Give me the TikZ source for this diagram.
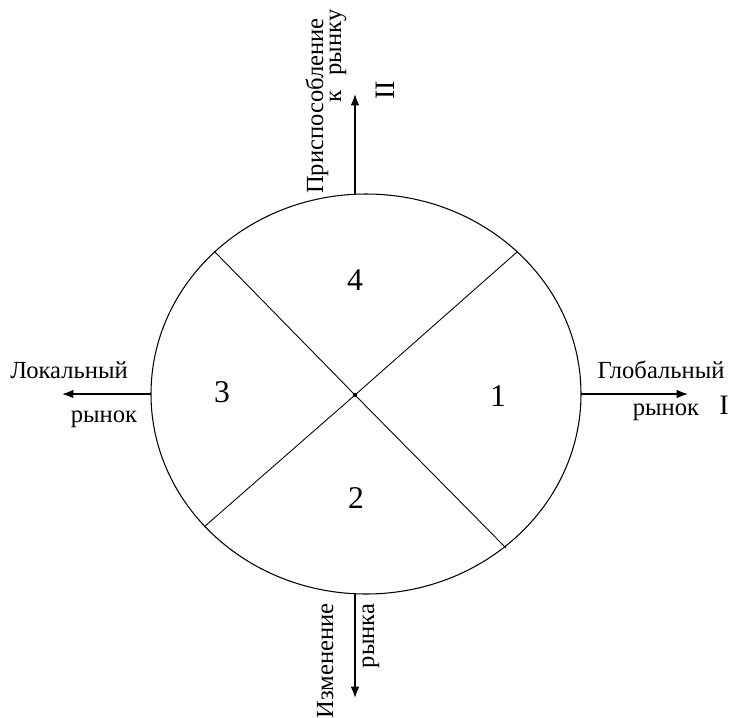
\documentclass[tikz,border=0pt]{standalone}
\usepackage{fontspec}
\setmainfont{Liberation Serif}
\usetikzlibrary{arrows.meta}
\tikzset{
  axis/.style={-{Latex[length=6.5pt,width=5pt]}, line width=0.9pt},
  cut/.style={line width=0.5pt},
  lbl/.style={font=\fontsize{14}{16}\selectfont, inner sep=0pt},
  num/.style={font=\fontsize{18}{21}\selectfont, inner sep=0pt},
  rom/.style={font=\fontsize{16}{19}\selectfont, inner sep=0pt},
}

\begin{document}
\begin{tikzpicture}[x=0.02cm,y=-0.02cm]
  \useasboundingbox (0,0) rectangle (730,717);
  % oval
  \draw[line width=0.6pt] (366,394) ellipse (215 and 200);
  % centre and the ends of the two cuts
  \coordinate (o) at (355,395);
  \coordinate (ul) at (214,251);
  \coordinate (ur) at (517,252);
  \coordinate (ll) at (204,527);
  \coordinate (lr) at (506,548);
  \draw[cut] (ul) -- (o) -- (lr);
  \draw[cut] (ur) -- (o) -- (ll);
  \fill (o) circle (2.2);
  % axes
  \coordinate (east) at (581,394);
  \coordinate (eastTip) at (688,394);
  \coordinate (west) at (151,394);
  \coordinate (westTip) at (62,394);
  \coordinate (north) at (355,194);
  \coordinate (northTip) at (355,94);
  \coordinate (south) at (355,594);
  \coordinate (southTip) at (355,698);
  \draw[axis] (east) -- (eastTip);
  \draw[axis] (west) -- (westTip);
  \draw[axis] (north) -- (northTip);
  \draw[axis] (south) -- (southTip);
  % sectors
  \node[num] (s1) at (498,396) {1};
  \node[num] (s2) at (356,498) {2};
  \node[num] (s3) at (222,392) {3};
  \node[num] (s4) at (355,280) {4};
  % labels
  \node[lbl, anchor=base] (glob) at (661,378) {Глобальный};
  \node[lbl, anchor=base] (globM) at (666,415) {рынок};
  \node[rom, anchor=base] (one) at (724,414) {I};
  \node[lbl, anchor=base] (loc) at (69,378) {Локальный};
  \node[lbl, anchor=base] (locM) at (104,422) {рынок};
  \node[lbl, anchor=base, rotate=90] (adapt) at (323,106) {Приспособление};
  \node[lbl, anchor=base, rotate=90] (adaptM) at (341,56) {к\hspace{0.6em}рынку};
  \node[rom, rotate=90] (two) at (385,90) {II};
  \node[lbl, anchor=base, rotate=90] (change) at (333,661) {Изменение};
  \node[lbl, anchor=base, rotate=90] (changeM) at (374,636) {рынка};
\end{tikzpicture}
\end{document}
